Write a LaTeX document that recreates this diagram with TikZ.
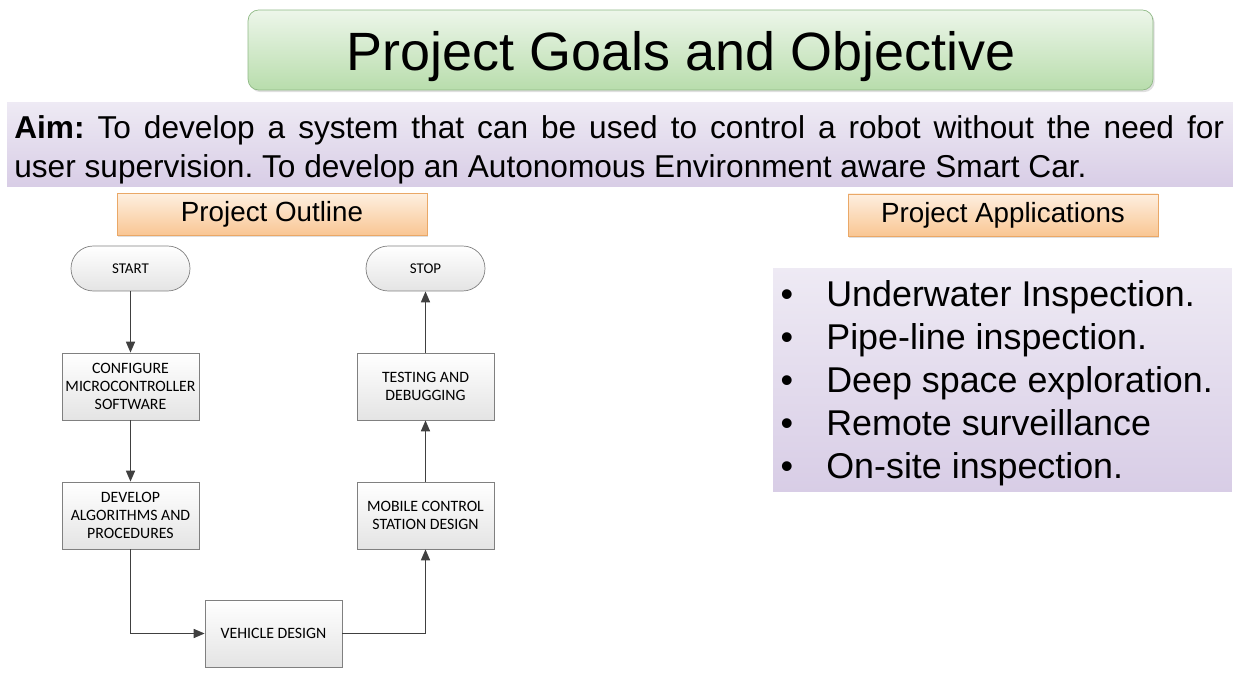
\documentclass[tikz,border=0pt]{standalone}
\usepackage{fontspec}
\setmainfont{Liberation Sans}
\newfontfamily\flowfont{Carlito}
\usepackage{tikz}
\usetikzlibrary{positioning, arrows.meta, shapes.misc, shadows}
\definecolor{titletop}{HTML}{EDF6EA}
\definecolor{titlebot}{HTML}{B8DDAC}
\definecolor{titleline}{HTML}{8FB985}
\definecolor{aimtop}{HTML}{EEEAF4}
\definecolor{aimbot}{HTML}{D8CDE6}
\definecolor{headtop}{HTML}{FEEFE0}
\definecolor{headbot}{HTML}{F9C693}
\definecolor{headline}{HTML}{EAA867}
\definecolor{boxline}{HTML}{808080}
\definecolor{boxbot}{HTML}{E4E4E4}
\definecolor{ink}{HTML}{404040}
\tikzset{
  titlebox/.style = {rectangle, rounded corners=6pt, draw=titleline, thin,
                     top color=titletop, bottom color=titlebot,
                     minimum width=18.1cm, minimum height=1.6cm,
                     drop shadow={shadow xshift=1pt, shadow yshift=-1.2pt, opacity=0.25}},
  band/.style     = {rectangle, top color=aimtop, bottom color=aimbot,
                     minimum width=24.52cm, minimum height=1.7cm},
  header/.style   = {rectangle, draw=headline, thin, top color=headtop, bottom color=headbot,
                     minimum width=6.2cm, minimum height=0.84cm,
                     font=\fontsize{15.8}{18}\selectfont,
                     drop shadow={shadow xshift=0.8pt, shadow yshift=-1pt, opacity=0.25}},
  term/.style     = {rectangle, rounded corners=12.7pt, draw=boxline, top color=white, bottom color=boxbot,
                     minimum width=2.38cm, minimum height=0.9cm,
                     font=\flowfont\fontsize{8.5}{10.4}\selectfont},
  proc/.style     = {rectangle, draw=boxline, top color=white, bottom color=boxbot,
                     minimum width=2.74cm, minimum height=1.34cm, inner sep=1pt,
                     align=center, font=\flowfont\fontsize{9}{10.4}\selectfont},
  appbox/.style   = {rectangle, top color=aimtop, bottom color=aimbot,
                     minimum width=9.18cm, minimum height=4.48cm},
  appitem/.style  = {inner sep=0pt, font=\fontsize{20.4}{24}\selectfont},
  ar/.style       = {-{Triangle[length=2.2mm,width=1.8mm]}, line width=0.9pt, draw=ink},
}
\begin{document}
\frenchspacing
\begin{tikzpicture}[x=0.02cm, y=-0.02cm]
  \useasboundingbox (0,0) rectangle (1245,678);

  % ----- title -----
  \node[titlebox] (title) at (700.5,50) {};
  \node[font=\fontsize{30.7}{36}\selectfont] (titletext) at (681,57) {Project Goals and Objective};

  % ----- aim -----
  \node[band] (aim) at (620,144.5) {};
  \node[anchor=west, inner sep=0pt, text width=24.2cm, align=justify,
        font=\fontsize{18}{22.2}\selectfont] (aimtext) at (14,150)
    {\textbf{Aim:} To develop a system that can be used to control a robot without the need for\linebreak
     user supervision. To develop an Autonomous Environment aware Smart Car.};

  % ----- headers -----
  \node[header] (outline) at (272,214.5) {Project Outline};
  \node[header] (apps) at (1003,215) {Project Applications};

  % ----- flow chart -----
  \node[term] (start) at (130.5,268.5) {START};
  \node[term] (stop) at (425.5,268.5) {STOP};
  \node[proc] (config) at (130.5,386.5) {CONFIGURE\\MICROCONTROLLER\\SOFTWARE};
  \node[proc] (testing) at (425.5,386.5) {TESTING AND\\DEBUGGING};
  \node[proc] (develop) at (130.5,515.5) {DEVELOP\\ALGORITHMS AND\\PROCEDURES};
  \node[proc] (mobile) at (425.5,515.5) {MOBILE CONTROL\\STATION DESIGN};
  \node[proc] (vehicle) at (273.5,633.5) {VEHICLE DESIGN};

  \draw[ar] (start) -- (config);
  \draw[ar] (config) -- (develop);
  \draw[ar] (develop.south) |- (vehicle.west);
  \draw[ar] (vehicle.east) -| (mobile.south);
  \draw[ar] (mobile) -- (testing);
  \draw[ar] (testing) -- (stop);

  % ----- applications -----
  \node[appbox] (applist) at (1002.5,380) {};
  \foreach \i/\t in {0/Underwater Inspection., 1/Pipe-line inspection., 2/Deep space exploration.,
                     3/Remote surveillance, 4/On-site inspection.}
    {\node[appitem, anchor=base] (bul\i) at (787,307+43*\i) {\textbullet};
     \node[appitem, anchor=base west] (item\i) at (826,307+43*\i) {\t};}

\end{tikzpicture}
\end{document}
